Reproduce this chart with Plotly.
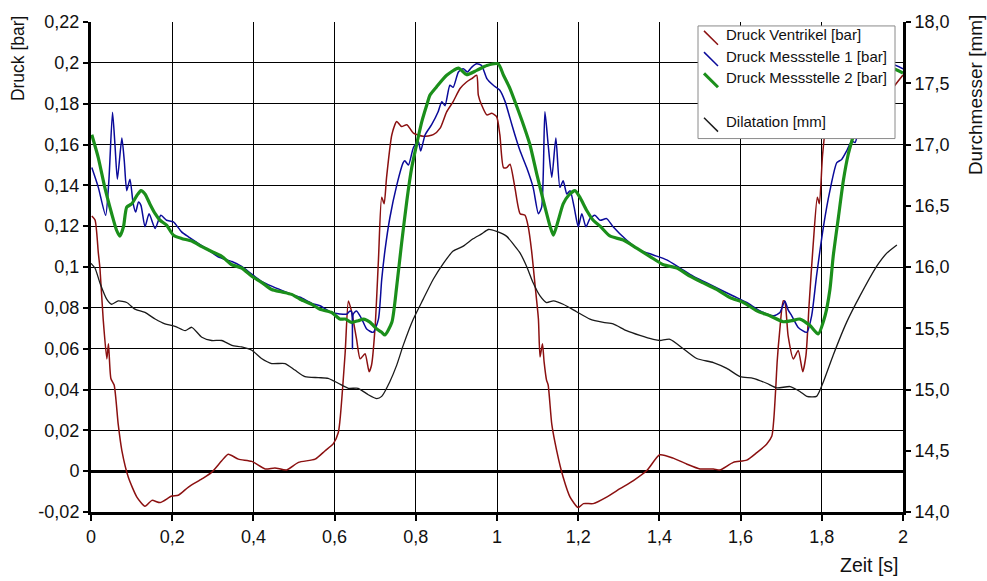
import plotly.graph_objects as go

# --- Druck Ventrikel [bar] ---
t_vent = [0.002, 0.010, 0.018, 0.022, 0.030, 0.039, 0.043, 0.049, 0.057, 0.067, 0.076, 0.092,
          0.113, 0.133, 0.150, 0.170, 0.199, 0.215, 0.240, 0.273, 0.297, 0.322, 0.338, 0.363,
          0.396, 0.429, 0.453, 0.482, 0.511, 0.552, 0.576, 0.597, 0.609, 0.613, 0.626, 0.634,
          0.642, 0.654, 0.663, 0.675, 0.685, 0.691, 0.700, 0.708, 0.716, 0.722, 0.728, 0.741,
          0.753, 0.765, 0.778, 0.794, 0.818, 0.843, 0.860, 0.876, 0.892, 0.909, 0.925, 0.938,
          0.950, 0.954, 0.962, 0.975, 0.987, 0.999, 1.007, 1.016, 1.024, 1.032, 1.044, 1.057,
          1.069, 1.077, 1.085, 1.094, 1.102, 1.106, 1.112, 1.116, 1.122, 1.126, 1.135, 1.147,
          1.163, 1.180, 1.200, 1.213, 1.237, 1.270, 1.303, 1.336, 1.369, 1.401, 1.434, 1.467,
          1.500, 1.533, 1.549, 1.582, 1.615, 1.640, 1.664, 1.677, 1.682, 1.687, 1.690, 1.696,
          1.705, 1.709, 1.717, 1.730, 1.742, 1.753, 1.761, 1.769, 1.779, 1.789, 1.794, 1.802,
          1.812, 1.825, 1.845, 1.882, 1.919, 1.943, 1.973, 2.000]
p_vent = [0.125, 0.123, 0.107, 0.0995, 0.0745, 0.055, 0.0624, 0.0454, 0.0422, 0.023, 0.0101, -0.003,
          -0.0127, -0.0172, -0.0143, -0.0154, -0.0122, -0.0118, -0.0078, -0.0038, -0.0006, 0.0051, 0.0083, 0.0059,
          0.0048, 0.0011, 0.0016, 0.0006, 0.0043, 0.0059, 0.0099, 0.0135, 0.0188, 0.0245, 0.058, 0.0834,
          0.078, 0.0648, 0.055, 0.0575, 0.0487, 0.052, 0.0713, 0.1035, 0.1342, 0.131, 0.1439, 0.1648,
          0.1713, 0.1688, 0.1697, 0.1656, 0.164, 0.1648, 0.168, 0.176, 0.181, 0.1874, 0.1906, 0.1923,
          0.1939, 0.1842, 0.1794, 0.1745, 0.1753, 0.1737, 0.1648, 0.1487, 0.1487, 0.1503, 0.139, 0.1261,
          0.1253, 0.1197, 0.1083, 0.0906, 0.0745, 0.0559, 0.0624, 0.0535, 0.0446, 0.0422, 0.0229, 0.0101,
          -0.003, -0.0127, -0.0178, -0.0159, -0.0159, -0.0127, -0.0086, -0.0046, 0.0003, 0.008, 0.0064, 0.0035,
          0.0011, 0.0011, 0.0006, 0.0043, 0.0054, 0.0091, 0.0132, 0.0172, 0.026, 0.0422, 0.0535, 0.068,
          0.0834, 0.083, 0.0664, 0.055, 0.0591, 0.0487, 0.0567, 0.0825, 0.1116, 0.1342, 0.131, 0.1551,
          0.1697, 0.171, 0.168, 0.164, 0.167, 0.176, 0.187, 0.194]

# --- Druck Messstelle 1 [bar] ---
t_ms1 = [0.002, 0.018, 0.036, 0.044, 0.053, 0.059, 0.065, 0.076, 0.082, 0.088, 0.096, 0.104,
         0.110, 0.117, 0.123, 0.133, 0.143, 0.158, 0.172, 0.186, 0.203, 0.223, 0.240, 0.264,
         0.289, 0.313, 0.347, 0.371, 0.396, 0.420, 0.445, 0.470, 0.494, 0.515, 0.544, 0.564,
         0.593, 0.613, 0.630, 0.638, 0.642, 0.644, 0.646, 0.654, 0.667, 0.679, 0.695, 0.708,
         0.716, 0.724, 0.736, 0.753, 0.769, 0.773, 0.782, 0.794, 0.806, 0.812, 0.823, 0.839,
         0.855, 0.864, 0.872, 0.884, 0.892, 0.905, 0.917, 0.927, 0.938, 0.950, 0.962, 0.975,
         0.991, 1.007, 1.020, 1.032, 1.044, 1.057, 1.073, 1.089, 1.102, 1.110, 1.118, 1.126,
         1.135, 1.145, 1.155, 1.163, 1.172, 1.180, 1.190, 1.200, 1.209, 1.219, 1.229, 1.241,
         1.254, 1.270, 1.286, 1.319, 1.352, 1.385, 1.418, 1.451, 1.483, 1.517, 1.549, 1.582,
         1.615, 1.648, 1.681, 1.697, 1.709, 1.717, 1.726, 1.742, 1.763, 1.775, 1.787, 1.804,
         1.820, 1.837, 1.849, 1.861, 1.874, 1.882, 1.890, 1.909, 1.931, 1.956, 1.975, 2.000]
p_ms1 = [0.1487, 0.139, 0.1253, 0.1422, 0.1758, 0.16, 0.143, 0.1632, 0.1519, 0.1374, 0.143, 0.1309,
         0.1269, 0.1318, 0.1302, 0.1197, 0.1261, 0.1189, 0.1253, 0.1229, 0.1221, 0.1172, 0.1148, 0.1116,
         0.1083, 0.105, 0.1027, 0.1003, 0.0965, 0.093, 0.0906, 0.0885, 0.0866, 0.0852, 0.0822, 0.081,
         0.0777, 0.077, 0.0769, 0.0785, 0.078, 0.06, 0.077, 0.0785, 0.0745, 0.0696, 0.068, 0.0745,
         0.0938, 0.108, 0.124, 0.14, 0.1511, 0.152, 0.150, 0.1584, 0.1616, 0.1568, 0.1648, 0.1697,
         0.176, 0.181, 0.179, 0.189, 0.188, 0.1955, 0.1971, 0.1955, 0.1979, 0.1995, 0.1987, 0.1923,
         0.189, 0.1866, 0.181, 0.1729, 0.1648, 0.1568, 0.1487, 0.139, 0.1261, 0.1293, 0.176, 0.16,
         0.1439, 0.1632, 0.139, 0.1422, 0.1358, 0.1374, 0.1293, 0.1197, 0.1261, 0.1197, 0.1237, 0.1253,
         0.1229, 0.1237, 0.1197, 0.1132, 0.1083, 0.1059, 0.1035, 0.0995, 0.0955, 0.0922, 0.089, 0.0858,
         0.0826, 0.0785, 0.0761, 0.0777, 0.0834, 0.079, 0.0761, 0.0704, 0.068, 0.0761, 0.0955, 0.1197,
         0.1374, 0.1511, 0.1527, 0.1568, 0.1616, 0.161, 0.1665, 0.176, 0.186, 0.193, 0.199, 0.197]

# --- Druck Messstelle 2 [bar] ---
t_ms2 = [0.002, 0.018, 0.034, 0.051, 0.063, 0.071, 0.080, 0.088, 0.100, 0.113, 0.123, 0.133,
         0.145, 0.158, 0.170, 0.186, 0.203, 0.223, 0.248, 0.273, 0.297, 0.322, 0.347, 0.371,
         0.396, 0.420, 0.445, 0.470, 0.494, 0.515, 0.544, 0.564, 0.593, 0.613, 0.626, 0.642,
         0.658, 0.671, 0.687, 0.704, 0.716, 0.724, 0.741, 0.753, 0.765, 0.778, 0.790, 0.802,
         0.815, 0.827, 0.835, 0.851, 0.876, 0.905, 0.925, 0.950, 0.975, 1.003, 1.016, 1.032,
         1.049, 1.065, 1.081, 1.098, 1.114, 1.131, 1.139, 1.151, 1.163, 1.176, 1.192, 1.204,
         1.221, 1.237, 1.254, 1.278, 1.311, 1.344, 1.377, 1.410, 1.443, 1.475, 1.508, 1.541,
         1.574, 1.607, 1.640, 1.672, 1.705, 1.726, 1.746, 1.771, 1.791, 1.808, 1.820, 1.828,
         1.841, 1.853, 1.865, 1.876, 1.894, 1.919, 1.943, 1.975, 2.000]
p_ms2 = [0.1648, 0.1535, 0.139, 0.1261, 0.118, 0.1151, 0.1197, 0.1293, 0.1309, 0.135, 0.1374, 0.1358,
         0.1309, 0.1261, 0.1229, 0.1205, 0.1156, 0.114, 0.1127, 0.11, 0.1076, 0.1052, 0.1011, 0.0995,
         0.0955, 0.0925, 0.089, 0.0878, 0.0866, 0.0842, 0.0817, 0.0793, 0.0777, 0.0745, 0.0745, 0.0729,
         0.0737, 0.0745, 0.073, 0.0696, 0.068, 0.0667, 0.0729, 0.0906, 0.1116, 0.1326, 0.1487, 0.16,
         0.1713, 0.1793, 0.1842, 0.1882, 0.1939, 0.1974, 0.1942, 0.1963, 0.1987, 0.1995, 0.1939, 0.1874,
         0.1785, 0.1697, 0.16, 0.1455, 0.1326, 0.1197, 0.1156, 0.1229, 0.1309, 0.135, 0.1374, 0.1342,
         0.1277, 0.1229, 0.12, 0.1152, 0.1132, 0.1092, 0.1051, 0.1011, 0.0995, 0.0955, 0.0922, 0.089,
         0.085, 0.0826, 0.0785, 0.0761, 0.0732, 0.0737, 0.0745, 0.0713, 0.0672, 0.0761, 0.089, 0.1051,
         0.1245, 0.1422, 0.1551, 0.1632, 0.175, 0.186, 0.193, 0.197, 0.195]

# --- Dilatation [mm] (right axis) ---
t_dil = [0.000, 0.010, 0.022, 0.039, 0.051, 0.067, 0.088, 0.108, 0.133, 0.158, 0.182, 0.207,
         0.232, 0.248, 0.273, 0.297, 0.322, 0.347, 0.371, 0.396, 0.420, 0.445, 0.478, 0.502,
         0.527, 0.560, 0.584, 0.609, 0.634, 0.658, 0.683, 0.704, 0.716, 0.736, 0.753, 0.769,
         0.794, 0.818, 0.843, 0.868, 0.892, 0.917, 0.941, 0.962, 0.979, 0.999, 1.024, 1.044,
         1.057, 1.073, 1.089, 1.106, 1.122, 1.139, 1.163, 1.196, 1.229, 1.262, 1.286, 1.319,
         1.352, 1.385, 1.401, 1.426, 1.459, 1.492, 1.533, 1.566, 1.599, 1.631, 1.664, 1.689,
         1.722, 1.746, 1.763, 1.787, 1.804, 1.828, 1.861, 1.894, 1.935, 1.960, 1.985]
d_dil = [16.03, 15.99, 15.87, 15.736, 15.696, 15.723, 15.71, 15.656, 15.629, 15.575, 15.535, 15.516,
         15.481, 15.508, 15.427, 15.4, 15.4, 15.36, 15.347, 15.32, 15.253, 15.212, 15.212, 15.159,
         15.105, 15.097, 15.091, 15.051, 15.01, 15.01, 14.957, 14.925, 14.944, 15.064, 15.199, 15.36,
         15.575, 15.736, 15.9, 16.03, 16.13, 16.17, 16.23, 16.27, 16.306, 16.29, 16.25, 16.17,
         16.113, 16.005, 15.871, 15.764, 15.71, 15.723, 15.696, 15.635, 15.575, 15.548, 15.535, 15.48,
         15.441, 15.409, 15.4, 15.41, 15.333, 15.253, 15.22, 15.172, 15.105, 15.091, 15.051, 15.013,
         15.024, 14.984, 14.944, 14.944, 15.064, 15.28, 15.548, 15.764, 16.005, 16.113, 16.18]

# --- axis ticks ---
x_ticks = [0, 0.2, 0.4, 0.6, 0.8, 1.0, 1.2, 1.4, 1.6, 1.8, 2.0]
x_tick_labels = ["0", "0,2", "0,4", "0,6", "0,8", "1", "1,2", "1,4", "1,6", "1,8", "2"]
y_ticks = [-0.02, 0, 0.02, 0.04, 0.06, 0.08, 0.1, 0.12, 0.14, 0.16, 0.18, 0.2, 0.22]
y_tick_labels = ["-0,02", "0", "0,02", "0,04", "0,06", "0,08", "0,1", "0,12", "0,14",
                 "0,16", "0,18", "0,2", "0,22"]
y2_ticks = [14.0, 14.5, 15.0, 15.5, 16.0, 16.5, 17.0, 17.5, 18.0]
y2_tick_labels = ["14,0", "14,5", "15,0", "15,5", "16,0", "16,5", "17,0", "17,5", "18,0"]

series_names = ["Druck Ventrikel [bar]", "Druck Messstelle 1 [bar]",
                "Druck Messstelle 2 [bar]", "Dilatation [mm]"]
series_colors = ["#8b1010", "#0a0a9a", "#1b8f1b", "#1a1a1a"]

FONT = "Liberation Sans, Arial, sans-serif"
W, H = 987, 581
ML, MR, MT, MB = 91, 84, 16, 69
PW, PH = W - ML - MR, H - MT - MB


def px(xp):
    return (xp - ML) / PW


def py(yp):
    return (H - MB - yp) / PH


def curve(x, y, color, width, axis="y"):
    return go.Scatter(x=x, y=y, mode="lines", yaxis=axis,
                      line=dict(color=color, width=width, shape="spline", smoothing=0.6))


fig = go.Figure()
fig.add_trace(curve(t_vent, p_vent, series_colors[0], 1.5))
fig.add_trace(curve(t_ms1, p_ms1, series_colors[1], 1.5))
fig.add_trace(curve(t_ms2, p_ms2, series_colors[2], 3.2))
fig.add_trace(curve(t_dil, d_dil, series_colors[3], 1.3, axis="y2"))

# legend box drawn by hand (diagonal line samples)
shapes = [dict(type="rect", xref="paper", yref="paper", layer="above",
               x0=px(698), x1=px(895), y0=py(134), y1=py(20),
               fillcolor="white", line=dict(color="#8a8a8a", width=1))]
annotations = []
row_y = [33, 54.5, 76, 121]
sample_w = [1.5, 1.5, 3, 1.5]
for name, color, yc, lw in zip(series_names, series_colors, row_y, sample_w):
    shapes.append(dict(type="line", xref="paper", yref="paper", layer="above",
                       x0=px(704), y0=py(yc - 8), x1=px(718), y1=py(yc + 6),
                       line=dict(color=color, width=lw)))
    annotations.append(dict(text=name, xref="paper", yref="paper", x=px(724), y=py(yc - 4),
                            xanchor="left", yanchor="middle", showarrow=False,
                            font=dict(family=FONT, size=15, color="#111")))

# axis titles
annotations.append(dict(text="Druck [bar]", xref="paper", yref="paper", x=px(18), y=py(7),
                        xanchor="center", yanchor="top", textangle=-90, showarrow=False,
                        font=dict(family=FONT, size=17.5, color="#111")))
annotations.append(dict(text="Durchmesser [mm]", xref="paper", yref="paper", x=px(975), y=py(7),
                        xanchor="center", yanchor="top", textangle=-90, showarrow=False,
                        font=dict(family=FONT, size=19, color="#111")))
annotations.append(dict(text="Zeit [s]", xref="paper", yref="paper", x=px(901), y=py(566),
                        xanchor="right", yanchor="middle", showarrow=False,
                        font=dict(family=FONT, size=19.5, color="#111")))

axis_common = dict(showline=True, linecolor="black", linewidth=3,
                   ticks="outside", tickwidth=2, tickcolor="black",
                   tickfont=dict(family=FONT, size=18, color="#111"))

fig.update_layout(
    width=W, height=H,
    margin=dict(l=ML, r=MR, t=MT, b=MB, pad=0),
    paper_bgcolor="white", plot_bgcolor="white",
    showlegend=False,
    font=dict(family=FONT, size=18, color="#111"),
    shapes=shapes, annotations=annotations,
    xaxis=dict(range=[0, 2], tickvals=x_ticks, ticktext=x_tick_labels,
               showgrid=True, gridcolor="black", gridwidth=1, ticklen=6,
               zeroline=False, **axis_common),
    yaxis=dict(range=[-0.02, 0.22], tickvals=y_ticks, ticktext=y_tick_labels,
               showgrid=True, gridcolor="black", gridwidth=1, ticklen=5,
               zeroline=True, zerolinecolor="black", zerolinewidth=3, **axis_common),
    yaxis2=dict(range=[14, 18], tickvals=y2_ticks, ticktext=y2_tick_labels,
                overlaying="y", side="right", showgrid=False, zeroline=False,
                ticklen=5, **axis_common),
)

fig.write_html("out.html")
